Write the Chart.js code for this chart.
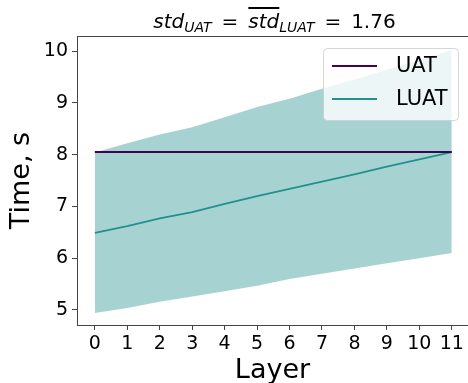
<!DOCTYPE html>
<html>
<head>
<meta charset="utf-8">
<script src="https://cdn.jsdelivr.net/npm/chart.js@4.4.0/dist/chart.umd.min.js"></script>
<style>
  body { margin: 0; background: #fff; }
  #wrap { position: relative; width: 468px; height: 383px; }
  #title {
    position: absolute; left: 79px; width: 391px; top: 10px;
    text-align: center; font-family: "DejaVu Sans", sans-serif; font-size: 20px;
    line-height: 23px; color: #000; white-space: nowrap;
  }
  #title i { font-style: italic; }
  #title sub { font-size: 14px; vertical-align: -4px; line-height: 0; }
  #title .ov { text-decoration: overline; }
  #title .eq { margin: 0 0.18em; }
</style>
</head>
<body>
<div id="wrap">
  <canvas id="timeChart" width="468" height="383"></canvas>
  <div id="title"><i>std</i><sub><i>UAT</i></sub> <span class="eq">=</span> <i class="ov">std</i><sub><i>LUAT</i></sub> <span class="eq">=</span> 1.76</div>
</div>
<script>
const layers = [0, 1, 2, 3, 4, 5, 6, 7, 8, 9, 10, 11];
const uatTime = [8.05, 8.05, 8.05, 8.05, 8.05, 8.05, 8.05, 8.05, 8.05, 8.05, 8.05, 8.05];
const luatTime = [6.49, 6.62, 6.77, 6.89, 7.05, 7.20, 7.34, 7.48, 7.62, 7.77, 7.91, 8.05];
const luatUpper = [8.04, 8.22, 8.39, 8.53, 8.72, 8.92, 9.08, 9.27, 9.45, 9.64, 9.83, 10.02];
const luatLower = [4.94, 5.04, 5.16, 5.26, 5.36, 5.47, 5.60, 5.70, 5.80, 5.90, 6.00, 6.10];
const yTicks = [5, 6, 7, 8, 9, 10];

const toPoints = values => layers.map((l, i) => ({ x: l, y: values[i] }));

// draw the top spine and a matplotlib-like legend inside the plot
const framePlugin = {
    id: 'frame',
    afterDraw(chart) {
        const ctx = chart.ctx;
        const a = chart.chartArea;
        ctx.save();
        ctx.strokeStyle = '#444';
        ctx.lineWidth = 1;
        ctx.beginPath();
        ctx.moveTo(a.left, a.top + 0.5);
        ctx.lineTo(a.right, a.top + 0.5);
        ctx.stroke();

        // legend box
        const bx = 323.5, by = 48.5, bw = 135, bh = 72, r = 4;
        ctx.beginPath();
        ctx.roundRect(bx, by, bw, bh, r);
        ctx.fillStyle = 'rgba(255,255,255,0.8)';
        ctx.fill();
        ctx.strokeStyle = 'rgba(204,204,204,0.8)';
        ctx.stroke();

        const items = chart.data.datasets.filter(d => d.showInLegend);
        ctx.font = '21px "DejaVu Sans", sans-serif';
        ctx.textBaseline = 'middle';
        ctx.fillStyle = '#000';
        items.forEach((d, i) => {
            const y = 66 + i * 33;
            ctx.strokeStyle = d.borderColor;
            ctx.lineWidth = 1.8;
            ctx.beginPath();
            ctx.moveTo(332, y);
            ctx.lineTo(377, y);
            ctx.stroke();
            ctx.fillText(d.label, 396, y + 1);
        });
        ctx.restore();
    }
};

const ctx = document.getElementById('timeChart').getContext('2d');
new Chart(ctx, {
    type: 'line',
    data: {
        datasets: [
            {
                label: 'UAT',
                data: toPoints(uatTime),
                borderColor: '#440154',
                borderWidth: 1.8,
                pointRadius: 0,
                fill: false,
                showInLegend: true
            },
            {
                label: 'LUAT',
                data: toPoints(luatTime),
                borderColor: '#21918c',
                borderWidth: 1.8,
                pointRadius: 0,
                fill: false,
                showInLegend: true
            },
            {
                label: 'LUAT upper',
                data: toPoints(luatUpper),
                borderWidth: 0,
                borderColor: 'rgba(0,0,0,0)',
                backgroundColor: 'rgba(33,145,140,0.4)',
                pointRadius: 0,
                fill: '+1'
            },
            {
                label: 'LUAT lower',
                data: toPoints(luatLower),
                borderWidth: 0,
                borderColor: 'rgba(0,0,0,0)',
                pointRadius: 0,
                fill: false
            }
        ]
    },
    options: {
        responsive: false,
        animation: false,
        layout: { padding: { top: 36, left: 0, right: 0, bottom: 0 } },
        plugins: {
            legend: { display: false },
            title: { display: false },
            tooltip: { enabled: false }
        },
        scales: {
            x: {
                type: 'linear',
                min: -0.55,
                max: 11.5,
                afterFit: scale => { scale.height = 58; },
                afterBuildTicks: scale => { scale.ticks = layers.map(v => ({ value: v })); },
                grid: { drawOnChartArea: false, tickLength: 5, tickColor: '#444' },
                border: { color: '#444', width: 1 },
                ticks: {
                    color: '#000',
                    padding: 3,
                    maxRotation: 0,
                    autoSkip: false,
                    font: { family: 'DejaVu Sans', size: 19 }
                },
                title: {
                    display: true,
                    text: 'Layer',
                    color: '#000',
                    padding: { top: 0, bottom: -4 },
                    font: { family: 'DejaVu Sans', size: 27 }
                }
            },
            y: {
                min: 4.71,
                max: 10.29,
                afterFit: scale => { scale.width = 77; },
                afterBuildTicks: scale => { scale.ticks = yTicks.map(v => ({ value: v })); },
                grid: { drawOnChartArea: false, tickLength: 5, tickColor: '#444' },
                border: { color: '#444', width: 1 },
                ticks: {
                    color: '#000',
                    padding: 4,
                    font: { family: 'DejaVu Sans', size: 19 }
                },
                title: {
                    display: true,
                    text: 'Time, s',
                    color: '#000',
                    padding: { top: 6, bottom: 0 },
                    font: { family: 'DejaVu Sans', size: 27 }
                }
            }
        }
    },
    plugins: [framePlugin]
});
</script>
</body>
</html>
